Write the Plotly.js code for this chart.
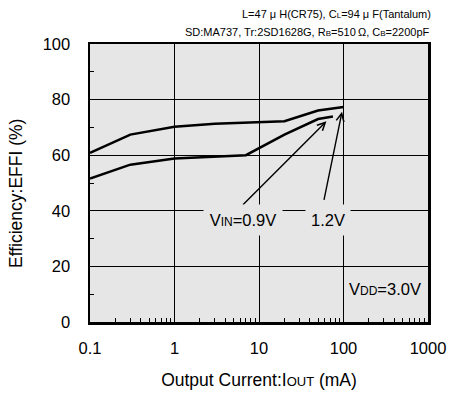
<!DOCTYPE html>
<html>
<head>
<meta charset="utf-8">
<script src="https://cdn.plot.ly/plotly-3.0.1.min.js"></script>
<style>html,body{margin:0;padding:0;background:#fff;}#chart{width:451px;height:396px;}</style>
</head>
<body>
<div id="chart"></div>
<script>
// Data
const ioutVin12 = [0.1, 0.3, 1, 3, 20, 50, 100];
const effVin12  = [60.8, 67.4, 70.2, 71.3, 72.2, 76.1, 77.3];
const ioutVin09 = [0.1, 0.3, 1, 7, 20, 50, 75];
const effVin09  = [51.6, 56.6, 58.8, 60.0, 67.4, 73.0, 73.9];

const xTickVals = [0.1, 1, 10, 100, 1000];
const xTickText = ['0.1', '1', '10', '100', '1000'];
const xMinorVals = [0.2,0.3,0.4,0.5,0.6,0.7,0.8,0.9,2,3,4,5,6,7,8,9,20,30,40,50,60,70,80,90,200,300,400,500,600,700,800,900];
const yTickVals = [0, 20, 40, 60, 80, 100];
const yMinorVals = [10, 30, 50, 70, 90];

const FONT = 'Liberation Sans, Arial, Helvetica, sans-serif';
const PLOTBG = '#e6e6e6';
const sm = (t, s) => '<span style="font-size:' + s + 'px">' + t + '</span>';

const traces = [
  {x: ioutVin12, y: effVin12, mode: 'lines', line: {color: '#000', width: 2.5}, hoverinfo: 'skip'},
  {x: ioutVin09, y: effVin09, mode: 'lines', line: {color: '#000', width: 2.5}, hoverinfo: 'skip'}
];

const L = Math.log10;
const annotations = [
  {xref: 'paper', yref: 'paper', x: 1.015, y: 1, yshift: 30, xanchor: 'right', yanchor: 'middle', showarrow: false,
   text: 'L=47 \u03bc H(CR75), C' + sm('L', 8) + '=94 \u03bc F(Tantalum)', font: {family: FONT, size: 11, color: '#000'}},
  {xref: 'paper', yref: 'paper', x: 1.012, y: 1, yshift: 12, xanchor: 'right', yanchor: 'middle', showarrow: false,
   text: 'SD:MA737, Tr:2SD1628G, R' + sm('B', 8) + '=510\u2009\u03a9, C' + sm('B', 8) + '=2200pF', font: {family: FONT, size: 11, color: '#000'}},
  // arrows
  {xref: 'x', yref: 'y', axref: 'x', ayref: 'y', x: L(62.8), y: 72.2, ax: L(6.2), ay: 41.6, text: '',
   showarrow: true, arrowhead: 5, arrowsize: 1.1, arrowwidth: 1.4, arrowcolor: '#000', standoff: 0},
  {xref: 'x', yref: 'y', axref: 'x', ayref: 'y', x: L(96), y: 75.6, ax: L(58.3), ay: 43.4, text: '',
   showarrow: true, arrowhead: 5, arrowsize: 1.1, arrowwidth: 1.4, arrowcolor: '#000', standoff: 0},
  // labels
  {xref: 'x', yref: 'y', x: L(6.43), y: 36.8, showarrow: false, bgcolor: PLOTBG, borderpad: 3, width: 72, height: 24,
   text: 'V' + sm('IN', 12) + '=0.9V', font: {family: FONT, size: 16.5, color: '#000'}},
  {xref: 'x', yref: 'y', x: L(64.7), y: 36.8, showarrow: false, bgcolor: PLOTBG, borderpad: 3, width: 38, height: 24,
   text: '1.2V', font: {family: FONT, size: 16.5, color: '#000'}},
  {xref: 'x', yref: 'y', x: L(307), y: 11.9, showarrow: false,
   text: 'V' + sm('DD', 12) + '=3.0V', font: {family: FONT, size: 16.5, color: '#000'}},
  // y axis title
  {xref: 'paper', yref: 'paper', x: (16 - 90) / 338, y: (322 - 194) / 278, xanchor: 'center', yanchor: 'middle',
   textangle: -90, showarrow: false, text: 'Efficiency:EFFI (%)', font: {family: FONT, size: 17.5, color: '#000'}}
];

const layout = {
  width: 451, height: 396,
  margin: {l: 90, r: 23, t: 44, b: 74},
  paper_bgcolor: '#fff', plot_bgcolor: PLOTBG,
  showlegend: false,
  font: {family: FONT, size: 16, color: '#000'},
  xaxis: {
    type: 'log', range: [-1, 3],
    tickvals: xTickVals, ticktext: xTickText, ticks: '', ticklabelstandoff: 10,
    showgrid: true, gridcolor: '#000', gridwidth: 1,
    showline: true, linecolor: '#000', linewidth: 2.5, mirror: true,
    zeroline: false,
    minor: {tickvals: xMinorVals, ticks: 'inside', ticklen: 4, tickwidth: 1, tickcolor: '#000', showgrid: false},
    tickfont: {family: FONT, size: 16.5, color: '#000'},
    title: {text: 'Output Current:I' + sm('OUT', 13) + ' (mA)', font: {family: FONT, size: 17.5, color: '#000'}, standoff: 18}
  },
  yaxis: {
    range: [0, 100],
    tickvals: yTickVals, ticks: '', ticklabelstandoff: 14,
    showgrid: true, gridcolor: '#000', gridwidth: 1,
    showline: true, linecolor: '#000', linewidth: 2.5, mirror: true,
    zeroline: false,
    minor: {tickvals: yMinorVals, ticks: 'inside', ticklen: 4, tickwidth: 1, tickcolor: '#000', showgrid: false},
    tickfont: {family: FONT, size: 16.5, color: '#000'}
  },
  annotations: annotations
};

Plotly.newPlot('chart', traces, layout, {staticPlot: true, displayModeBar: false});
</script>
</body>
</html>
